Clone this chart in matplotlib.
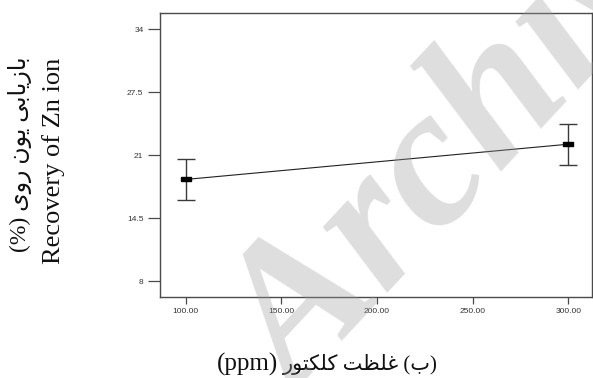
import matplotlib
matplotlib.use("Agg")
import matplotlib.pyplot as plt
import numpy as np

# Collector concentration (ppm) and Zn-ion recovery (%) with interval bounds
concentration = [100, 300]
recovery = [18.49, 22.13]
recovery_low = [16.33, 19.97]
recovery_high = [20.63, 24.24]

x_ticks = [100, 150, 200, 250, 300]
x_ticklabels = ["100.00", "150.00", "200.00", "250.00", "300.00"]
y_ticks = [8, 14.5, 21, 27.5, 34]
y_ticklabels = ["8", "14.5", "21", "27.5", "34"]

# matplotlib does not shape Arabic script, so the Persian labels are written
# with contextual presentation forms in left-to-right visual order.
fa_ylabel = ("(%) "
             "\uFEEF\uFEED\uFEAD "                              # روی
             "\uFEE5\uFEEE\uFEF3 "                              # یون
             "\uFEF0\uFE91\uFE8E\uFEF3\uFEAF\uFE8E\uFE91")      # بازیابی
en_ylabel = "Recovery of Zn ion"
unit_xlabel = "(ppm)"
fa_xlabel = ("\uFEAD\uFEEE\uFE98\uFEDC\uFEE0\uFEDB "            # کلکتور
             "\uFE96\uFEC8\uFEE0\uFECF "                        # غلظت
             "(\uFE8F)")                                        # (ب)

fig = plt.figure(figsize=(5.93, 3.78), dpi=100)
ax = fig.add_axes([0.2698, 0.2151, 0.7287, 0.7497])

ax.errorbar(concentration, recovery,
            yerr=[np.subtract(recovery, recovery_low),
                  np.subtract(recovery_high, recovery)],
            fmt="none", ecolor="#3a3a3a", elinewidth=1.0,
            capsize=6.8, capthick=1.0, zorder=2)
ax.plot(concentration, recovery, color="#222222", lw=0.8, zorder=3)
rect = [(-1, -0.55), (1, -0.55), (1, 0.55), (-1, 0.55), (-1, -0.55)]
ax.plot(concentration, recovery, linestyle="none", marker=rect,
        markersize=6.5, color="black", zorder=4)

ax.set_xlim(86.6, 312.4)
ax.set_ylim(6.38, 35.65)
ax.set_xticks(x_ticks)
ax.set_xticklabels(x_ticklabels)
ax.set_yticks(y_ticks)
ax.set_yticklabels(y_ticklabels)

for s in ax.spines.values():
    s.set_color("#4a4a4a")
    s.set_linewidth(1.0)
ax.tick_params(axis="y", length=8.4, width=0.9, color="#4a4a4a", pad=3.5,
               labelsize=6, labelcolor="#333333")
ax.tick_params(axis="x", length=4.8, width=0.9, color="#4a4a4a", pad=3.5,
               labelsize=6, labelcolor="#333333")
for lab in ax.get_xticklabels() + ax.get_yticklabels():
    lab.set_family("Liberation Sans")

label_font = ["Liberation Serif", "DejaVu Sans"]
fig.text(0.0337, 0.593, fa_ylabel, rotation=90, ha="center", va="center",
         fontsize=17, family=label_font, color="#111111")
fig.text(0.091, 0.574, en_ylabel, rotation=90, ha="center", va="center",
         fontsize=19, family=label_font, color="#111111")
fig.text(0.4688, 0.02, unit_xlabel, ha="right", va="baseline",
         fontsize=18, family=label_font, color="#111111")
fig.text(0.477, 0.02, fa_xlabel, ha="left", va="baseline",
         fontsize=15, family=label_font, color="#111111")

# Archive watermark
fig.text(0.502, -0.06, "Archive of SID", rotation=47, rotation_mode="anchor",
         ha="left", va="baseline", fontsize=144, fontweight="bold",
         fontstyle="italic", family="Liberation Serif",
         color="#9a9a9a", alpha=0.33, zorder=10)

fig.savefig("out.png", dpi=100)
